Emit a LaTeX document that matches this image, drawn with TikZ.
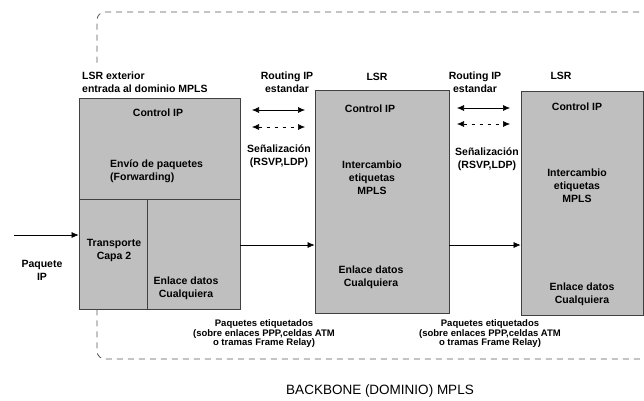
\documentclass[tikz,border=0pt]{standalone}
\usepackage{fontspec}
\setmainfont{Liberation Sans}
\usetikzlibrary{arrows.meta}
\begin{document}
\begin{tikzpicture}[x=1pt,y=-1pt,
  lbl/.style={font=\bfseries\fontsize{10.5}{13}\selectfont, align=center, inner sep=0pt},
  small/.style={font=\bfseries\fontsize{9.5}{9.5}\selectfont, align=center, inner sep=0pt},
  lsrbox/.style={draw=black!75, fill=black!25, line width=0.8pt, inner sep=0pt},
  frame/.style={draw=black!65, dashed, dash pattern=on 6pt off 5pt, line width=0.8pt, rounded corners=8pt},
  conn/.style={draw=black, line width=0.6pt, -{Latex[length=7pt,width=6pt]}},
  dconn/.style={draw=black, line width=0.6pt, {Latex[length=7pt,width=6pt]}-{Latex[length=7pt,width=6pt]}},
  ddconn/.style={dconn, dash pattern=on 3pt off 5pt}]
\useasboundingbox (0,0) rectangle (644,400);
\fill[white] (0,0) rectangle (644,400);

% LSR boxes
\node[lsrbox, minimum width=161pt, minimum height=211pt] (b1) at (159.5,203.5) {};
\node[lsrbox, minimum width=134pt, minimum height=223pt] (b2) at (382,201.5) {};
\node[lsrbox, minimum width=122pt, minimum height=224pt] (b3) at (582,203) {};

% dashed backbone frame (left edge interrupted by the ingress LSR)
\coordinate (ftr) at (650,12);
\coordinate (ftl) at (97,12);
\coordinate (fml) at (97,66);
\coordinate (fbl) at (97,359);
\coordinate (fbr) at (650,359);
\draw[frame] (ftr) -- (ftl) -- (fml);
\draw[frame] (b1.south -| fbl) -- (fbl) -- (fbr);

% dividers in box 1
\coordinate (hdl) at (79,199);
\coordinate (vdt) at (147,199);
\draw[black!75, line width=0.8pt] (hdl) -- (hdl -| b1.east);
\draw[black!75, line width=0.8pt] (vdt) -- (vdt |- b1.south);

% labels above boxes
\node[lbl, anchor=west, align=left] (t1) at (82,82) {LSR exterior\\entrada al dominio MPLS};
\node[lbl] (r1) at (287,82) {Routing IP\\estandar};
\node[lbl] (l2) at (377,77) {LSR};
\node[lbl] (r2) at (475,82) {Routing IP\\estandar};
\node[lbl] (l3) at (561,76) {LSR};

% signalling arrows
\coordinate (a1l) at (252,110); \coordinate (a1r) at (305,110);
\coordinate (d1l) at (252,127); \coordinate (d1r) at (305,127);
\draw[dconn] (a1l) -- (a1r);
\draw[ddconn] (d1l) -- (d1r);
\coordinate (a2l) at (457,108); \coordinate (a2r) at (510,108);
\coordinate (d2l) at (457,124); \coordinate (d2r) at (510,124);
\draw[dconn] (a2l) -- (a2r);
\draw[ddconn] (d2l) -- (d2r);
\node[lbl] (s1) at (279,156) {Señalización\\(RSVP,LDP)};
\node[lbl] (s2) at (487,159) {Señalización\\(RSVP,LDP)};

% box 1 texts
\node[lbl] (c1) at (158,113) {Control IP};
\node[lbl, anchor=west, align=left] (e1) at (110,171) {Envío de paquetes\\(Forwarding)};
\node[lbl] (tr1) at (114,250) {Transporte\\Capa 2};
\node[lbl] (en1) at (186,288) {Enlace datos\\Cualquiera};

% box 2 texts
\node[lbl] (c2) at (370,109) {Control IP};
\node[lbl] (i2) at (372,178) {Intercambio\\etiquetas\\MPLS};
\node[lbl] (en2) at (371,277) {Enlace datos\\Cualquiera};

% box 3 texts
\node[lbl] (c3) at (577,107) {Control IP};
\node[lbl] (i3) at (577,186) {Intercambio\\etiquetas\\MPLS};
\node[lbl] (en3) at (582,294) {Enlace datos\\Cualquiera};

% packet input
\node[lbl] (pk) at (42,270) {Paquete\\IP};
\coordinate (pin) at (14,235);
\draw[conn] (pin) -- (pin -| b1.west);
\coordinate (y12) at (0,245);
\draw[conn] (b1.east |- y12) -- (b2.west |- y12);
\draw[conn] (b2.east |- y12) -- (b3.west |- y12);

% bottom labels
\node[small] (p1) at (264,334) {Paquetes etiquetados\\(sobre enlaces PPP,celdas ATM\\o tramas Frame Relay)};
\node[small] (p2) at (490,334) {Paquetes etiquetados\\(sobre enlaces PPP,celdas ATM\\o tramas Frame Relay)};

\node[font=\fontsize{13.5}{15}\selectfont, inner sep=0pt] (bb) at (380,391) {BACKBONE (DOMINIO) MPLS};
\end{tikzpicture}
\end{document}
